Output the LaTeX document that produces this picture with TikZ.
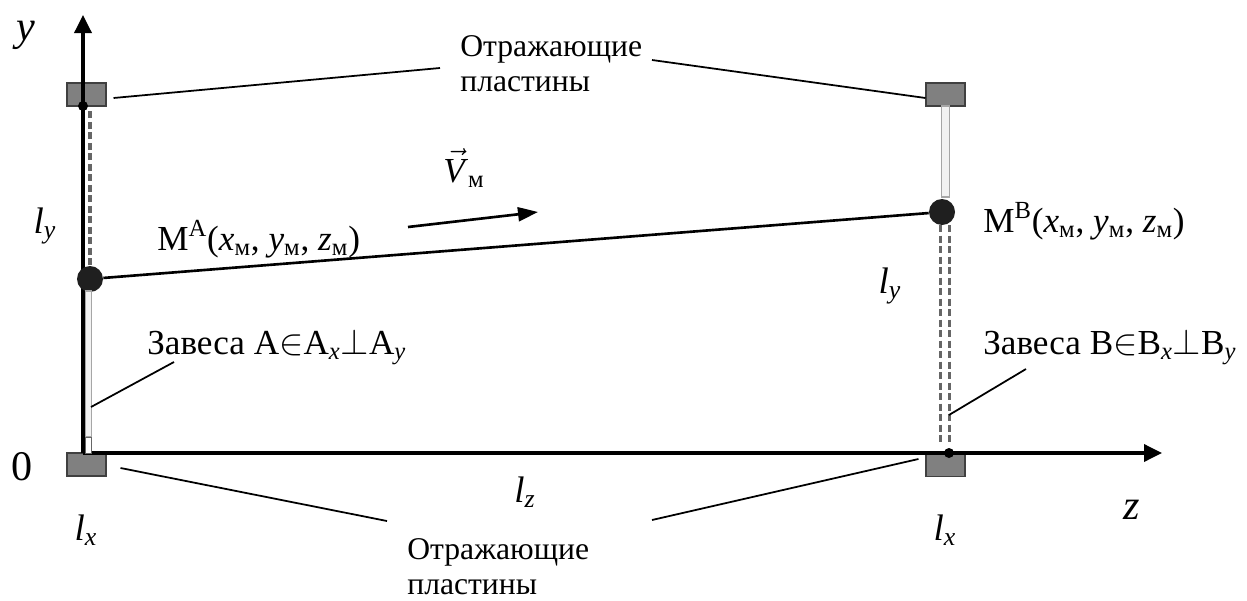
\documentclass[tikz,border=0pt]{standalone}
\usepackage{fontspec}
\setmainfont{Liberation Serif}
\usetikzlibrary{positioning,arrows.meta,calc}

\tikzset{
  plate/.style={draw=black!75,fill=black!50,line width=0.6pt,minimum width=0.78cm,minimum height=0.46cm,inner sep=0pt},
  bigdot/.style={circle,fill=black!88,minimum size=0.52cm,inner sep=0pt},
  smalldot/.style={circle,fill=black,minimum size=0.2cm,inner sep=0pt},
  lead/.style={line width=1pt},
  axis/.style={line width=2pt,-{Triangle[length=0.36cm,width=0.34cm]}},
  gdash/.style={black!60,line width=1.8pt,dash pattern=on 0.14cm off 0.07cm},
  bar/.style={draw=black!35,fill=black!5,line width=0.7pt},
  txt/.style={font=\fontsize{18}{19.8}\selectfont,inner sep=0pt},
  zlbl/.style={font=\fontsize{20}{24}\selectfont,inner sep=0pt},
  mlbl/.style={font=\fontsize{20}{24}\selectfont,inner sep=0pt},
  llbl/.style={font=\fontsize{21}{25}\selectfont\itshape,inner sep=0pt},
  axlbl/.style={font=\fontsize{24}{28}\selectfont,inner sep=0pt}
}
\newcommand{\pointM}[1]{М\textsuperscript{#1}(\textit{x}\textsubscript{м}, \textit{y}\textsubscript{м}, \textit{z}\textsubscript{м})}

\begin{document}
\begin{tikzpicture}
\useasboundingbox (-1.66,-2.94) rectangle (23.28,9.06);
% reflecting plates
\node[plate] (plTL) at (0.07,7.17) {};
\node[plate] (plBL) at (0.07,-0.23) {};
\node[plate] (plTR) at (17.25,7.17) {};
\node[plate] (plBR) at (17.25,-0.24) {};
% axes
\coordinate (O) at (0,0);
\coordinate (ytip) at (0,8.76);
\coordinate (ztip) at (21.58,0);
\draw[axis] (O) -- (ytip);
\draw[axis] (O) -- (ztip);
\node[axlbl,font=\fontsize{24}{28}\selectfont\itshape] (ylbl) at (-1.14,8.36) {y};
\node[axlbl,font=\fontsize{24}{28}\selectfont\itshape] (zlbl) at (20.98,-1.14) {z};
\node[axlbl] (zero) at (-1.22,-0.28) {0};
% points of the curtains
\node[smalldot] (dA) at (0,6.94) {};
\node[smalldot] (dB) at (17.32,0) {};
\node[bigdot] (mA) at (0.14,3.48) {};
\node[bigdot] (mB) at (17.18,4.82) {};
% curtain A
\draw[gdash] (mA.north |- dA.south) -- (mA.north);
\draw[bar] (0.05,0.32) rectangle (0.17,3.24);
\draw[draw=black!60,fill=white,line width=0.5pt] (0.05,0) rectangle (0.17,0.32);
% curtain B
\draw[bar] (17.17,5.12) rectangle (17.33,6.94);
\draw[gdash] (17.15,4.56) -- (17.15,0.18);
\draw[gdash] (17.33,4.56) -- (17.33,0.18);
% trajectory and velocity
\draw[line width=1.5pt] (mA) -- (mB);
\coordinate (v1) at (6.50,4.52);
\coordinate (v2) at (9.10,4.82);
\draw[line width=1.5pt,-{Triangle[length=0.4cm,width=0.28cm]}] (v1) -- (v2);
\node[mlbl,anchor=base west] (vel) at (7.2,5.42) {$\vec{\mbox{\textit{V}}}$\textsubscript{м}};
\node[mlbl,anchor=base west] (lblA) at (1.48,4.06) {\pointM{А}};
\node[mlbl,anchor=base west] (lblB) at (18.0,4.42) {\pointM{В}};
% lengths
\node[llbl] (lyA) at (-0.76,4.54) {l\textsubscript{y}};
\node[llbl] (lyB) at (16.14,3.34) {l\textsubscript{y}};
\node[llbl] (lxA) at (0.06,-1.54) {l\textsubscript{x}};
\node[llbl] (lxB) at (17.24,-1.54) {l\textsubscript{x}};
\node[llbl] (lz) at (8.84,-0.78) {l\textsubscript{z}};
% captions and leaders
\node[txt,anchor=base west,align=left] (topL) at (7.54,7.24) {Отражающие\\пластины};
\node[txt,anchor=base west,align=left] (botL) at (6.48,-2.82) {Отражающие\\пластины};
\node[zlbl,anchor=base west] (zavA) at (1.28,1.98) {Завеса А$\in$А\textsubscript{\textit{x}}$\perp$А\textsubscript{\textit{y}}};
\node[zlbl,anchor=base west] (zavB) at (18.0,1.98) {Завеса В$\in$В\textsubscript{\textit{x}}$\perp$В\textsubscript{\textit{y}}};
\coordinate (ldTL) at (7.14,7.70);
\coordinate (ldTR) at (11.38,7.86);
\coordinate (ldBL) at (6.08,-1.36);
\coordinate (ldBR) at (11.38,-1.34);
\coordinate (ldA) at (1.82,1.82);
\coordinate (ldB) at (18.86,1.68);
\draw[lead] ([shift={(0.14,-0.07)}]plTL.east) -- (ldTL);
\draw[lead] (ldTR) -- ([shift={(0,-0.07)}]plTR.west);
\draw[lead] ([shift={(0.28,-0.07)}]plBL.east) -- (ldBL);
\draw[lead] (ldBR) -- ([shift={(-0.14,0.12)}]plBR.west);
\draw[lead] (0.16,0.92) -- (ldA);
\draw[lead] (17.32,0.76) -- (ldB);
\end{tikzpicture}
\end{document}
